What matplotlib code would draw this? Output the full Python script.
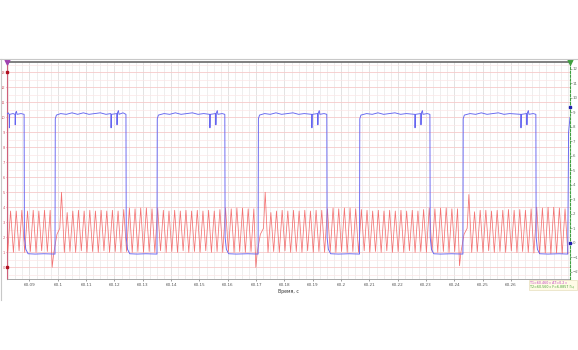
import matplotlib
matplotlib.use("Agg")
import matplotlib.pyplot as plt
from matplotlib.lines import Line2D
from matplotlib.ticker import MultipleLocator

# time is given in ms after 60.08 s
T0 = 60.08

# red channel (crank sensor), pairs of (ms, value)
red_rev0 = [(2.06, 1.6), (2.32, 1.05), (3.32, 3.75), (4.32, 1.0), (5.32, 3.75), (6.32, 1.1),
            (7.31, 3.8), (8.31, 1.0), (9.31, 3.75), (10.31, 1.05), (11.31, 3.8), (12.31, 1.0),
            (13.30, 3.75), (14.30, 1.1), (15.30, 3.8), (16.30, 1.05), (17.30, 3.8),
            (18.00, 0.0), (18.60, 1.0), (19.70, 2.2), (20.70, 2.6), (21.30, 5.0)]
red_rev1 = [(22.30, 1.0), (23.30, 3.65), (24.29, 1.05), (25.29, 3.75), (26.29, 1.0), (27.29, 3.8),
            (28.29, 1.1), (29.29, 3.75), (30.28, 1.0), (31.29, 3.8), (32.28, 1.05), (33.28, 3.75),
            (34.28, 1.0), (35.28, 3.8), (36.28, 1.1), (37.28, 3.75), (38.27, 1.0), (39.27, 3.8),
            (40.27, 1.05), (41.27, 3.75), (42.27, 1.0), (43.27, 3.85), (44.26, 1.05), (45.26, 3.95),
            (46.26, 1.0), (47.26, 3.9), (48.26, 1.05), (49.26, 3.95), (50.25, 1.0), (51.26, 3.95),
            (52.25, 1.05), (53.25, 3.9), (54.25, 1.0), (55.25, 3.95), (56.25, 1.1), (57.25, 3.8),
            (58.24, 1.0), (59.24, 3.75), (60.24, 1.05), (61.24, 3.8), (62.24, 1.0), (63.24, 3.75),
            (64.23, 1.1), (65.23, 3.8), (66.23, 1.0), (67.23, 3.75), (68.23, 1.05), (69.23, 3.8),
            (70.22, 1.0), (71.23, 3.75), (72.22, 1.1), (73.22, 3.8), (74.22, 1.0), (75.22, 3.75),
            (76.22, 1.05), (77.22, 3.85), (78.21, 1.0), (79.21, 3.95), (80.21, 1.05), (81.21, 3.9),
            (82.21, 1.0), (83.21, 3.95), (84.20, 1.05), (85.20, 3.95), (86.20, 1.0), (87.20, 3.9),
            (88.20, 1.05), (89.20, 3.9),
            (89.90, 0.0), (90.40, 1.0), (91.50, 2.2), (92.60, 2.6), (93.20, 5.0)]
red_rev2 = [(94.20, 1.0), (95.20, 3.65), (96.19, 1.05), (97.19, 3.75), (98.19, 1.0), (99.19, 3.8),
            (100.19, 1.1), (101.19, 3.75), (102.18, 1.0), (103.19, 3.8), (104.18, 1.05), (105.18, 3.75),
            (106.18, 1.0), (107.18, 3.8), (108.18, 1.1), (109.18, 3.75), (110.17, 1.0), (111.17, 3.8),
            (112.17, 1.05), (113.17, 3.8), (114.17, 1.0), (115.17, 3.9), (116.16, 1.05), (117.16, 3.95),
            (118.16, 1.0), (119.16, 3.9), (120.16, 1.05), (121.16, 3.95), (122.15, 1.0), (123.16, 3.95),
            (124.15, 1.05), (125.15, 3.9), (126.15, 1.0), (127.15, 3.85), (128.15, 1.1), (129.15, 3.8),
            (130.14, 1.0), (131.14, 3.75), (132.14, 1.05), (133.14, 3.8), (134.14, 1.0), (135.14, 3.75),
            (136.13, 1.1), (137.13, 3.8), (138.13, 1.0), (139.13, 3.75), (140.13, 1.05), (141.13, 3.8),
            (142.12, 1.0), (143.13, 3.75), (144.12, 1.1), (145.12, 3.8), (146.12, 1.0), (147.12, 3.75),
            (148.12, 1.05), (149.12, 3.85), (150.11, 1.0), (151.11, 3.95), (152.11, 1.05), (153.11, 3.9),
            (154.11, 1.0), (155.11, 3.95), (156.10, 1.05), (157.10, 3.95), (158.10, 1.0), (159.10, 3.9),
            (160.10, 1.05), (161.10, 3.9),
            (161.80, 0.1), (162.30, 1.0), (163.40, 2.2), (164.50, 2.6), (165.10, 4.85)]
red_rev3 = [(166.10, 1.0), (167.10, 3.7), (168.09, 1.05), (169.09, 3.8), (170.09, 1.0), (171.09, 3.8),
            (172.09, 1.1), (173.09, 3.75), (174.08, 1.0), (175.09, 3.8), (176.08, 1.05), (177.08, 3.8),
            (178.08, 1.0), (179.08, 3.85), (180.08, 1.1), (181.08, 3.8), (182.07, 1.0), (183.07, 3.85),
            (184.07, 1.05), (185.07, 3.8), (186.07, 1.0), (187.07, 3.9), (188.06, 0.95), (189.06, 4.0),
            (190.06, 0.9), (191.06, 3.95), (192.06, 0.95), (193.06, 4.0), (194.05, 0.9), (195.06, 4.0),
            (196.05, 0.95), (197.05, 3.95), (198.05, 0.9), (199.05, 3.9), (200.05, 0.9)]

# blue channel (cam sensor), pairs of (ms, value)
blue_pts = [(2.06, 10.2), (2.5, 10.3), (2.85, 10.2), (2.9, 9.3), (3.0, 10.2), (4.2, 10.25), (4.9, 10.2),
            (4.96, 9.5), (5.1, 10.3), (5.4, 10.4), (5.6, 10.2), (7.0, 10.25), (8.1, 10.2),
            (8.2, 2.0), (8.7, 1.2), (9.5, 0.9), (12.0, 0.88), (15.0, 0.9), (18.9, 0.88),
            (19.0, 0.88), (19.1, 9.9), (19.5, 10.15), (21.0, 10.25), (23.0, 10.2), (25.0, 10.3),
            (27.0, 10.2), (29.0, 10.3), (31.0, 10.2), (33.0, 10.25), (35.0, 10.3), (37.0, 10.2),
            (38.7, 10.25), (38.8, 9.3), (38.95, 10.2), (40.8, 10.25), (40.9, 9.5), (41.05, 10.3),
            (41.4, 10.45), (41.6, 10.2), (43.0, 10.3), (44.05, 10.2),
            (44.15, 2.0), (44.6, 1.2), (45.4, 0.9), (48.0, 0.88), (51.0, 0.9), (54.9, 0.88),
            (55.0, 0.88), (55.1, 9.9), (55.5, 10.15), (57.5, 10.25), (59.5, 10.2), (61.5, 10.3),
            (63.5, 10.2), (65.5, 10.25), (67.5, 10.3), (69.5, 10.2), (71.5, 10.25), (73.6, 10.2),
            (73.7, 9.3), (73.85, 10.2), (75.7, 10.25), (75.8, 9.5), (75.95, 10.3), (76.3, 10.45),
            (76.5, 10.2), (78.0, 10.25), (78.95, 10.2),
            (79.05, 2.0), (79.5, 1.2), (80.3, 0.9), (83.0, 0.88), (87.0, 0.9), (90.6, 0.88),
            (90.7, 0.88), (90.8, 9.9), (91.2, 10.15), (93.0, 10.25), (95.0, 10.2), (97.0, 10.3),
            (99.0, 10.2), (101.0, 10.25), (103.0, 10.3), (105.0, 10.2), (107.0, 10.25), (109.6, 10.2),
            (109.7, 9.3), (109.85, 10.2), (111.7, 10.25), (111.8, 9.5), (111.95, 10.3), (112.3, 10.45),
            (112.5, 10.2), (114.0, 10.25), (114.95, 10.2),
            (115.05, 2.0), (115.5, 1.2), (116.3, 0.9), (119.0, 0.88), (123.0, 0.9), (126.4, 0.88),
            (126.5, 0.88), (126.6, 9.9), (127.0, 10.15), (129.0, 10.25), (131.0, 10.2), (133.0, 10.3),
            (135.0, 10.2), (137.0, 10.25), (139.0, 10.3), (141.0, 10.2), (143.0, 10.25), (146.0, 10.2),
            (146.1, 9.3), (146.25, 10.2), (148.1, 10.25), (148.2, 9.5), (148.35, 10.3), (148.7, 10.45),
            (148.9, 10.2), (150.4, 10.25), (151.35, 10.2),
            (151.45, 2.0), (151.9, 1.2), (152.7, 0.9), (155.0, 0.88), (159.0, 0.9), (162.9, 0.88),
            (163.0, 0.88), (163.1, 9.9), (163.5, 10.15), (165.5, 10.25), (167.5, 10.2), (169.5, 10.3),
            (171.5, 10.2), (173.5, 10.25), (175.5, 10.3), (177.5, 10.2), (179.5, 10.25), (183.4, 10.2),
            (183.5, 9.3), (183.65, 10.2), (185.5, 10.25), (185.6, 9.5), (185.75, 10.3), (186.1, 10.45),
            (186.3, 10.2), (187.8, 10.25), (188.75, 10.2),
            (188.85, 2.0), (189.3, 1.2), (190.1, 0.9), (193.0, 0.88), (197.0, 0.9), (200.0, 0.88),
            (200.3, 9.0), (200.8, 10.0)]

x_ticks = [60.09, 60.10, 60.11, 60.12, 60.13, 60.14, 60.15, 60.16, 60.17,
           60.18, 60.19, 60.20, 60.21, 60.22, 60.23, 60.24, 60.25, 60.26]
x_labels = ["60.09", "60.1", "60.11", "60.12", "60.13", "60.14", "60.15", "60.16", "60.17",
            "60.18", "60.19", "60.2", "60.21", "60.22", "60.23", "60.24", "60.25", "60.26"]
left_ticks = list(range(0, 14))
right_ticks = list(range(-2, 13))
cursor_lines = ["T1=60.460 c ΔT=0.2 c", "T2=60.560 c F=6.8857 Гц"]


def to_xy(pts):
    return [T0 + p[0] / 1000 for p in pts], [p[1] for p in pts]


fig = plt.figure(figsize=(5.78, 3.5), dpi=100)
ax = fig.add_axes([7 / 578, 1 - 278.5 / 350, 563 / 578, 216.5 / 350])

ax.set_xlim(T0 + 2.06 / 1000, T0 + 200.8 / 1000)
ax.set_ylim(-0.75, 13.69)

# grid
ax.yaxis.set_major_locator(MultipleLocator(1))
ax.yaxis.set_minor_locator(MultipleLocator(0.5))
ax.xaxis.set_minor_locator(MultipleLocator(0.0025))
ax.grid(which="major", axis="y", color="#f6caca", lw=0.6)
ax.grid(which="minor", axis="y", color="#fbe6e6", lw=0.5)
ax.grid(which="minor", axis="x", color="#e8e8e8", lw=0.5)
ax.grid(which="major", axis="x", color="#dedede", lw=0.6)
ax.set_axisbelow(True)

rx, ry = [], []
for seg in (red_rev0, red_rev1, red_rev2, red_rev3):
    sx, sy = to_xy(seg)
    rx += sx
    ry += sy
ax.plot(rx, ry, color="#f25a5a", lw=0.55, alpha=0.85, zorder=3)
bx, by = to_xy(blue_pts)
ax.plot(bx, by, color="#6464f0", lw=0.65, zorder=4)

ax.set_xticks(x_ticks)
ax.set_xticklabels(x_labels)
ax.set_yticks(left_ticks)
ax.tick_params(axis="x", labelsize=3.0, length=1.5, width=0.4, pad=1.5, colors="#555555", which="major")
ax.tick_params(axis="x", which="minor", length=0)
ax.tick_params(axis="y", labelsize=2.6, length=1.0, width=0.4, pad=0.4, colors="#d05a6a", which="major")
ax.tick_params(axis="y", which="minor", length=0)
ax.set_xlabel("Время, с", fontsize=3.3, labelpad=1.5, color="#333333")

ax.spines["left"].set_color("#d0607a")
ax.spines["left"].set_linewidth(0.8)
ax.spines["bottom"].set_color("#999999")
ax.spines["bottom"].set_linewidth(0.6)
ax.spines["top"].set_color("#6a6a6a")
ax.spines["top"].set_linewidth(1.2)
ax.spines["right"].set_visible(False)

# right axis
ax2 = ax.twinx()
ax2.set_ylim(-2.45, 12.48)
ax2.set_yticks(right_ticks)
ax2.tick_params(axis="y", labelsize=2.8, length=1.2, width=0.4, pad=0.8, colors="#607060")
for s in ("left", "top", "bottom"):
    ax2.spines[s].set_visible(False)
ax2.spines["right"].set_color("#40a040")
ax2.spines["right"].set_linestyle((0, (2, 1.5)))
ax2.spines["right"].set_linewidth(0.8)

# channel markers
ax.plot([T0 + 2.06 / 1000] * 2, [0, 13], ls="none", marker="s", ms=2, color="#b01020", clip_on=False, zorder=6)
ax.plot([T0 + 2.06 / 1000], [13.69], ls="none", marker="v", ms=3.5, color="#a040b0", clip_on=False, zorder=6)
ax.plot([T0 + 200.8 / 1000], [13.69], ls="none", marker="v", ms=3.5, color="#40a040", clip_on=False, zorder=6)
ax2.plot([T0 + 200.8 / 1000] * 2, [0, 9.4], ls="none", marker="s", ms=2, color="#2020b0", clip_on=False, zorder=6)

# frame lines of the window
fig.add_artist(Line2D([0, 1], [1 - 58.5 / 350] * 2, color="#c8c8c8", lw=0.8))
fig.add_artist(Line2D([0.0015, 0.0015], [1 - 58.5 / 350, 1 - 300 / 350], color="#c8c8c8", lw=0.8))

# cursor info box
fig.patches.append(plt.Rectangle((529 / 578, 1 - 290 / 350), 48 / 578, 10 / 350,
                                 transform=fig.transFigure, fc="#fffbe6", ec="#e0d8b0", lw=0.4))
fig.text(530.5 / 578, 1 - 282.5 / 350, cursor_lines[0], fontsize=2.35, color="#c040c0",
         va="center", ha="left")
fig.text(530.5 / 578, 1 - 287 / 350, cursor_lines[1], fontsize=2.35, color="#40a030",
         va="center", ha="left")

fig.savefig("out.png", dpi=100)
